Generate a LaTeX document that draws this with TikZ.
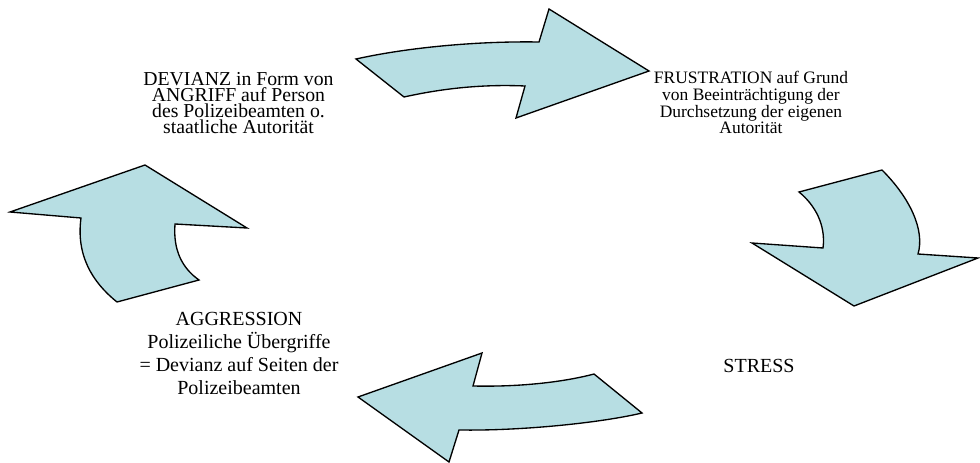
\documentclass[tikz,border=0pt]{standalone}
\usepackage{fontspec}
\setmainfont{Liberation Serif}
\lineskiplimit=-100pt
\definecolor{arrowfill}{RGB}{183,222,227}
\begin{document}
\begin{tikzpicture}[x=0.75pt,y=-0.75pt,
  shapearrow/.style={draw=black,line width=1pt,fill=arrowfill,line join=miter},
  lbl/.style={inner sep=0pt,align=center,anchor=base,text=black}]
\useasboundingbox (0,0) rectangle (980,463);
% top arrow (left to right)
\draw[shapearrow] (356,59) .. controls (410,47) and (480,41) .. (539,42)
  -- (549,9) -- (649,71) -- (516,118) -- (525,86)
  .. controls (480,84) and (440,89) .. (404,97) -- cycle;
% right arrow (downwards)
\draw[shapearrow] (799,192) -- (882,170)
  .. controls (910,198) and (925,230) .. (918,254)
  -- (978,258) -- (854,306) -- (752,243) -- (823,248)
  .. controls (826,225) and (815,205) .. (799,192) -- cycle;
% bottom arrow (right to left)
\draw[shapearrow] (482,353) -- (473,386)
  .. controls (515,387) and (560,383) .. (594,374)
  -- (642,413)
  .. controls (600,423) and (520,431) .. (459,430)
  -- (449,462) -- (358,397) -- cycle;
% left arrow (upwards)
\draw[shapearrow] (145,165) -- (247,228) -- (175,224)
  .. controls (173,250) and (182,268) .. (199,280)
  -- (117,302)
  .. controls (92,282) and (76,255) .. (81,218)
  -- (10,212) -- cycle;
% texts (anchor=base is the baseline of the last line)
\node[lbl,font=\fontsize{14.8}{12.2}\selectfont] (dev) at (238.5,134)
  {DEVIANZ in Form von\\ANGRIFF auf Person\\des Polizeibeamten o.\\staatliche Autorität};
\node[lbl,font=\fontsize{13.1}{12.7}\selectfont] (fru) at (751,134)
  {FRUSTRATION auf Grund\\von Beeinträchtigung der\\Durchsetzung der eigenen\\Autorität};
\node[lbl,font=\fontsize{15}{17.25}\selectfont] (str) at (759,372) {STRESS};
\node[lbl,font=\fontsize{15}{17.25}\selectfont] (agg) at (239,394)
  {AGGRESSION\\Polizeiliche Übergriffe\\= Devianz auf Seiten der\\Polizeibeamten};
\end{tikzpicture}
\end{document}
